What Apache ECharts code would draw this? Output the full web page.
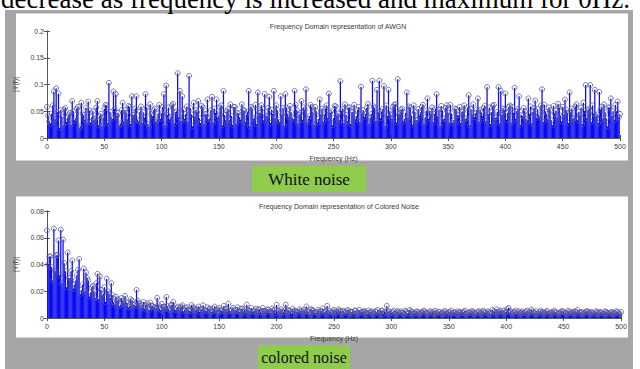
<!DOCTYPE html>
<html>
<head>
<meta charset="utf-8">
<script src="https://cdn.jsdelivr.net/npm/echarts@6/dist/echarts.min.js"></script>
<style>
  html, body { margin: 0; padding: 0; background: #ffffff; }
  #chart { width: 640px; height: 369px; }
</style>
</head>
<body>
<div id="chart"></div>
<script>
// ---------------- DATA ----------------
const topCaption = 'decrease as frequency is increased and maximum for 0Hz.';
const plotTitles = ['Frequency Domain representation of AWGN', 'Frequency Domain representation of Colored Noise'];
const boxCaptions = ['White noise', 'colored noise'];
const xAxisName = 'Frequency (Hz)';
const yAxisName = '|Y(f)|';
const xTicks = [0, 50, 100, 150, 200, 250, 300, 350, 400, 450, 500];
const awgnYTicks = [0, 0.05, 0.1, 0.15, 0.2];
const coloredYTicks = [0, 0.02, 0.04, 0.06, 0.08];

// AWGN magnitude, units of 0.001, even bins f = 0, 2, 4, ... 500 Hz
const awgnEvenMilli = [
  58,31,45,87,93,83,52,24,56,38,     // 0-18
  47,69,33,55,18,66,43,57,68,29,     // 20-38
  50,36,69,41,22,54,61,103,39,87,    // 40-58
  82,47,27,66,52,35,58,78,44,78,     // 60-78
  31,59,48,82,26,63,41,55,34,62,     // 80-98
  46,82,98,57,39,64,48,121,88,78,    // 100-118
  36,59,116,44,66,52,69,28,57,45,    // 120-138
  72,37,77,55,72,42,61,88,33,54,     // 140-158
  63,25,58,47,39,63,51,44,88,58,     // 160-178
  36,62,85,47,55,82,40,77,53,88,     // 180-198
  61,34,78,56,82,45,60,38,88,52,     // 200-218
  43,69,57,91,36,62,48,58,29,72,     // 220-238
  55,44,61,83,50,37,59,46,106,54,    // 240-258
  63,32,57,48,62,41,58,96,52,45,     // 260-278
  64,38,107,56,90,107,49,97,61,90,   // 280-298
  44,58,63,110,47,55,36,85,59,42,    // 300-318
  61,33,54,48,62,39,74,51,57,45,     // 320-338
  82,53,60,35,56,47,62,28,55,43,     // 340-358
  58,49,61,37,80,54,63,46,74,52,     // 360-378
  41,60,95,57,48,62,39,95,88,55,     // 380-398
  83,47,61,58,94,50,78,43,56,36,     // 400-418
  74,59,49,70,54,40,91,62,45,57,     // 420-438
  33,60,51,64,42,58,72,47,85,55,     // 440-458
  38,63,49,57,66,99,52,99,61,90,     // 460-478
  44,86,58,63,37,57,74,50,62,68,     // 480-498
  45                                 // 500
];
// AWGN magnitude, units of 0.001, odd bins f = 1, 3, 5, ... 499 Hz
const awgnOddMilli = [
  42,27,61,35,48,19,40,53,30,44,     // 1-19
  25,50,37,58,22,46,34,29,51,39,     // 21-39
  33,57,24,45,38,62,28,49,36,54,     // 41-59
  41,23,52,31,47,60,26,43,55,34,     // 61-79
  49,28,38,57,21,44,52,30,46,36,     // 81-99
  58,24,43,35,61,27,50,39,32,53,     // 101-119
  45,31,56,22,40,48,37,60,26,44,     // 121-139
  35,52,29,47,38,57,24,43,50,33,     // 141-159
  41,58,27,46,34,53,30,49,22,55,     // 161-179
  38,26,47,61,33,42,56,28,45,37,     // 181-199
  52,30,44,23,57,39,48,35,62,27,     // 201-219
  46,34,53,29,41,58,25,50,36,44,     // 221-239
  31,55,38,47,24,60,42,33,51,28,     // 241-259
  43,57,26,49,35,52,30,46,39,56,     // 261-279
  27,45,59,32,48,37,54,23,41,50,     // 281-299
  36,62,29,44,53,31,47,38,57,25,     // 301-319
  49,34,42,58,27,51,36,45,30,55,     // 321-339
  40,23,52,37,61,29,46,33,54,42,     // 341-359
  28,50,35,57,24,44,39,53,31,48,     // 361-379
  56,32,45,26,60,38,49,27,43,52,     // 381-399
  34,58,29,47,36,54,25,41,50,33,     // 401-419
  45,27,56,38,43,61,30,49,35,52,     // 421-439
  24,46,39,57,31,44,53,28,48,36,     // 441-459
  59,33,42,26,51,37,55,30,46,40,     // 461-479
  28,53,36,48,22,57,41,34,50,39      // 481-499
];

// Colored noise magnitude, units of 0.0001, even bins f = 0, 2, ... 500 Hz
const coloredEven = [
  656,460,380,668,470,580,660,586,350,490,  // 0-18
  300,430,250,320,440,210,370,340,280,190,  // 20-38
  240,150,330,310,170,230,294,180,260,120,  // 40-58
  160,140,100,130,165,110,90,130,100,210,   // 60-78
  110,75,120,95,70,115,90,80,150,70,        // 80-98
  105,85,157,65,95,120,60,85,75,95,         // 100-118
  60,80,55,97,70,60,85,65,95,55,            // 120-138
  80,70,50,85,65,75,55,90,70,107,           // 140-158
  50,75,60,80,45,70,65,100,55,75,           // 160-178
  50,70,60,45,75,55,65,50,70,60,            // 180-198
  98,55,65,45,100,60,50,70,55,45,           // 200-218
  65,50,60,86,45,65,55,40,60,50,            // 220-238
  70,45,90,55,40,60,50,65,45,55,            // 240-258
  40,60,50,45,55,35,60,45,50,40,            // 260-278
  55,45,35,50,60,40,55,45,90,50,            // 280-298
  40,55,35,45,50,40,55,35,60,45,            // 300-318
  40,50,35,45,55,40,35,50,45,55,            // 320-338
  35,45,40,50,35,45,55,40,35,50,            // 340-358
  45,40,55,35,45,50,40,35,50,45,            // 360-378
  55,40,50,35,60,45,65,50,40,55,            // 380-398
  45,75,50,40,55,45,35,50,40,55,            // 400-418
  45,63,40,50,35,55,45,40,50,35,            // 420-438
  45,55,40,35,50,45,40,55,35,45,            // 440-458
  50,60,40,45,35,50,40,45,35,50,            // 460-478
  40,45,35,50,40,35,45,40,50,35,            // 480-498
  45                                        // 500
];
// Colored noise magnitude, units of 0.0001, odd bins f = 1, 3, ... 499 Hz
const coloredOdd = [
  400,460,280,350,470,320,260,410,230,300,  // 1-19
  350,220,280,360,180,250,200,300,160,230,  // 21-39
  200,260,140,210,180,120,200,150,170,100,  // 41-59
  130,90,150,110,120,80,140,100,90,130,     // 61-79
  90,100,70,110,60,90,80,70,100,60,         // 81-99
  80,70,90,55,100,65,75,60,85,50,           // 101-119
  75,60,50,80,55,70,45,65,60,50,            // 121-139
  65,45,70,55,40,60,50,65,45,55,            // 141-159
  60,40,55,50,70,45,35,60,50,45,            // 161-179
  55,40,65,35,50,45,60,40,55,35,            // 181-199
  50,45,35,60,40,55,30,50,45,40,            // 201-219
  55,35,45,50,30,60,40,45,35,50,            // 221-239
  40,55,30,45,50,35,40,55,30,45,            // 241-259
  50,35,45,30,55,40,35,45,50,30,            // 261-279
  40,50,30,45,35,55,30,40,45,35,            // 281-299
  45,30,50,35,40,30,45,35,50,30,            // 301-319
  35,45,30,40,50,30,45,35,30,40,            // 321-339
  45,30,35,50,30,40,35,45,30,40,            // 341-359
  35,45,30,40,35,50,30,45,35,30,            // 361-379
  45,35,40,30,50,35,45,55,30,40,            // 381-399
  65,40,35,45,30,50,40,35,45,30,            // 401-419
  40,50,35,30,45,40,35,50,30,40,            // 421-439
  35,45,30,40,50,35,30,45,40,35,            // 441-459
  45,35,40,30,45,50,35,40,30,45,            // 461-479
  35,40,30,45,35,40,30,35,45,30             // 481-499
];

// ---------------- CHART ----------------
function pairs(evenVals, oddVals, unit) {
  const out = [];
  evenVals.forEach((v, i) => out.push([2 * i, v * unit]));
  oddVals.forEach((v, i) => out.push([2 * i + 1, v * unit]));
  return out;
}
const awgnData = pairs(awgnEvenMilli, awgnOddMilli, 0.001);
const coloredData = pairs(coloredEven, coloredOdd, 0.0001);

const AX = '#555';
const LBL = '#3a3a3a';
const FONT = 'Liberation Sans, Arial, sans-serif';
const SERIF = 'Liberation Serif, Times New Roman, serif';
const STEM = '#0808f2';
const CIRCLE = '#58589e';

function bottomX(g) {
  return {
    type: 'value', gridIndex: g, position: 'bottom',
    min: xTicks[0], max: xTicks[xTicks.length - 1], interval: xTicks[1] - xTicks[0],
    axisLine: { lineStyle: { color: AX, width: 1 } },
    axisTick: { inside: true, length: 3, lineStyle: { color: AX } },
    axisLabel: { fontSize: 7, color: LBL, margin: 5, fontFamily: FONT },
    splitLine: { show: false },
    name: xAxisName, nameLocation: 'middle', nameGap: 17,
    nameTextStyle: { fontSize: 7, color: LBL, fontFamily: FONT }
  };
}
function topX(g) {
  return {
    type: 'value', gridIndex: g, position: 'top',
    min: xTicks[0], max: xTicks[xTicks.length - 1], interval: xTicks[1] - xTicks[0],
    axisLine: { lineStyle: { color: AX, width: 1 } },
    axisTick: { inside: true, length: 3, lineStyle: { color: AX } },
    axisLabel: { show: false }, splitLine: { show: false }
  };
}
function leftY(g, ticks) {
  return {
    type: 'value', gridIndex: g, position: 'left',
    min: ticks[0], max: ticks[ticks.length - 1], interval: ticks[1] - ticks[0],
    axisLine: { show: true, lineStyle: { color: AX, width: 1 } },
    axisTick: { show: true, inside: true, length: 3, lineStyle: { color: AX } },
    axisLabel: { fontSize: 7, color: LBL, margin: 3, fontFamily: FONT },
    splitLine: { show: false },
    name: yAxisName, nameLocation: 'middle', nameGap: 22, nameRotate: 90,
    nameTextStyle: { fontSize: 7, color: LBL, fontFamily: FONT }
  };
}
function rightY(g, ticks) {
  return {
    type: 'value', gridIndex: g, position: 'right',
    min: ticks[0], max: ticks[ticks.length - 1], interval: ticks[1] - ticks[0],
    axisLine: { show: true, lineStyle: { color: AX, width: 1 } },
    axisTick: { show: true, inside: true, length: 3, lineStyle: { color: AX } },
    axisLabel: { show: false }, splitLine: { show: false }
  };
}
function stemSeries(axisIdx, data) {
  return {
    type: 'custom', xAxisIndex: axisIdx, yAxisIndex: axisIdx, data: data,
    encode: { x: 0, y: 1 }, silent: true, clip: true,
    renderItem: function (params, api) {
      const x = api.value(0), v = api.value(1);
      const p0 = api.coord([x, 0]);
      const p1 = api.coord([x, v]);
      return {
        type: 'line',
        shape: { x1: p0[0], y1: p0[1], x2: p1[0], y2: p1[1] },
        style: { stroke: STEM, lineWidth: 1.25 }
      };
    }
  };
}
function circleSeries(axisIdx, data) {
  return {
    type: 'scatter', xAxisIndex: axisIdx, yAxisIndex: axisIdx, data: data,
    symbol: 'circle', symbolSize: 5, silent: true,
    itemStyle: { color: 'rgba(0,0,0,0)', borderColor: CIRCLE, borderWidth: 0.8, opacity: 1 }
  };
}

const chart = echarts.init(document.getElementById('chart'), null, { renderer: 'svg', width: 640, height: 369 });
chart.setOption({
  animation: false,
  backgroundColor: '#ffffff',
  title: [
    { text: plotTitles[0], left: 333, top: 18, textAlign: 'center',
      textStyle: { fontSize: 7, fontWeight: 'normal', color: LBL, fontFamily: FONT } },
    { text: plotTitles[1], left: 334, top: 198, textAlign: 'center',
      textStyle: { fontSize: 7, fontWeight: 'normal', color: LBL, fontFamily: FONT } }
  ],
  graphic: [
    { type: 'rect', z: 0, shape: { x: 5, y: 10, width: 628, height: 359 }, style: { fill: '#a6a6a6' } },
    { type: 'rect', z: 0, shape: { x: 16, y: 13.5, width: 612, height: 147 }, style: { fill: '#ffffff' } },
    { type: 'rect', z: 0, shape: { x: 16, y: 196.5, width: 612, height: 141 }, style: { fill: '#ffffff' } },
    { type: 'rect', z: 0, shape: { x: 252, y: 166, width: 114, height: 26 }, style: { fill: '#8fcb4d' } },
    { type: 'rect', z: 0, shape: { x: 258, y: 345, width: 92, height: 24 }, style: { fill: '#8fcb4d' } },
    { type: 'text', z: 1, style: { text: topCaption, x: 1, y: -1, fontSize: 27, fontFamily: SERIF,
        fill: '#000', textAlign: 'left', textVerticalAlign: 'middle', verticalAlign: 'middle' } },
    { type: 'text', z: 1, style: { text: boxCaptions[0], x: 309, y: 179, fontSize: 17, fontFamily: SERIF,
        fill: '#111', textAlign: 'center', align: 'center', textVerticalAlign: 'middle', verticalAlign: 'middle' } },
    { type: 'text', z: 1, style: { text: boxCaptions[1], x: 304, y: 357, fontSize: 16, fontFamily: SERIF,
        fill: '#111', textAlign: 'center', align: 'center', textVerticalAlign: 'middle', verticalAlign: 'middle' } }
  ],
  grid: [
    { left: 47, top: 31, width: 573, height: 107 },
    { left: 47, top: 211, width: 574, height: 107 }
  ],
  xAxis: [bottomX(0), topX(0), bottomX(1), topX(1)],
  yAxis: [leftY(0, awgnYTicks), rightY(0, awgnYTicks), leftY(1, coloredYTicks), rightY(1, coloredYTicks)],
  series: [
    stemSeries(0, awgnData), circleSeries(0, awgnData),
    stemSeries(2, coloredData), circleSeries(2, coloredData)
  ]
});
</script>
</body>
</html>
